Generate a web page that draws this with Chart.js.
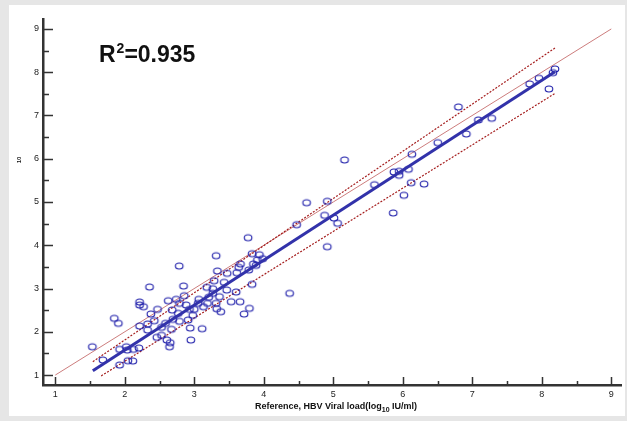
<!DOCTYPE html>
<html>
<head>
<meta charset="utf-8">
<script src="https://cdn.jsdelivr.net/npm/chart.js@4.4.1/dist/chart.umd.min.js"></script>
<style>
html,body{margin:0;padding:0;background:#e6e6e6;}
#wrap{position:absolute;left:0;top:0;width:627px;height:421px;}
</style>
</head>
<body>
<div id="wrap"><canvas id="c" width="627" height="421"></canvas></div>
<script>
// ---- data ----
const refX = [1.533,1.685,1.925,2.022,2.036,2.126,2.203,1.925,2.045,2.116,1.849,1.907,
2.213,2.328,2.328,2.424,2.375,2.471,2.461,2.529,2.605,2.644,2.654,2.529,2.586,2.672,2.691,2.787,2.769,2.682,
2.625,2.740,2.855,2.845,2.787,2.884,2.931,2.941,2.950,2.912,2.978,2.999,3.056,3.065,3.113,3.132,3.190,3.208,
3.266,3.315,3.323,3.381,3.362,3.180,3.266,3.286,3.430,3.467,3.333,3.473,3.315,2.783,2.356,2.213,2.213,2.270,
3.530,3.659,3.793,3.717,3.602,3.832,4.372,3.774,3.832,3.937,3.639,3.611,3.783,3.889,3.851,3.984,3.908,3.664,
4.473,4.616,4.914,4.875,5.010,5.062,4.914,5.162,
5.593,5.872,5.948,5.948,6.082,6.121,6.307,6.016,5.862,6.131,6.504,6.915,6.800,7.088,7.280,7.826,7.960,8.103,8.161,8.190];
const testY = [1.654,1.347,1.594,1.654,1.578,1.594,1.624,1.231,1.331,1.324,2.311,2.195,
2.133,2.179,2.040,2.256,2.410,2.519,1.872,1.918,1.809,1.654,1.747,2.103,2.195,2.057,2.288,2.242,2.427,2.503,
2.718,2.750,2.834,3.058,2.658,2.618,2.519,2.087,1.809,2.272,2.380,2.519,2.658,2.750,2.071,2.579,2.658,2.797,
2.889,2.658,2.533,2.464,2.810,3.028,2.995,3.180,3.143,2.965,3.405,3.351,3.758,3.520,3.035,2.688,2.618,2.579,
2.695,2.695,2.542,2.410,2.919,3.097,2.889,4.175,3.805,3.782,3.490,3.365,3.428,3.536,3.566,3.689,3.659,3.566,
4.475,4.984,5.016,4.692,4.630,4.508,3.966,5.971,
5.400,5.694,5.710,5.617,5.756,5.446,5.416,5.155,4.746,6.103,6.371,6.572,7.197,6.896,6.935,7.728,7.860,7.613,7.990,8.075];
const fitX = [1.54, 8.19];   const fitY = [1.10, 8.01];
const upperX = [1.54, 8.20]; const upperY = [1.31, 8.57];
const lowerX = [1.66, 8.19]; const lowerY = [0.98, 7.51];
const identX = [1, 9];       const identY = [1, 9];
const xTicks = [1,2,3,4,5,6,7,8,9];
const yTicks = [1,2,3,4,5,6,7,8,9];
const rSquared = "0.935";

const pts = (xs, ys) => xs.map((x, i) => ({x: x, y: ys[i]}));

// hollow ellipse marker
const mk = document.createElement('canvas');
mk.width = 12; mk.height = 10;
(function(){
  const g = mk.getContext('2d');
  g.strokeStyle = 'rgb(30,30,170)';
  g.lineWidth = 1.1;
  g.beginPath();
  g.ellipse(6, 5, 3.8, 3.0, 0, 0, Math.PI*2);
  g.stroke();
})();

const FONT = "'Liberation Sans', Arial, sans-serif";

const decor = {
  id: 'decor',
  beforeDraw(chart) {
    const c = chart.ctx;
    c.save();
    c.fillStyle = '#e6e6e6';
    c.fillRect(0, 0, chart.width, chart.height);
    c.fillStyle = '#ffffff';
    c.fillRect(9, 5, 616, 411);
    c.restore();
  },
  afterDraw(chart) {
    const c = chart.ctx;
    const xs = chart.scales.x, ys = chart.scales.y;
    const a = chart.chartArea;
    c.save();
    c.strokeStyle = '#333';
    c.lineWidth = 1.5;
    c.beginPath();
    for (let v = 1; v <= 9.001; v += 0.5) {
      const major = Math.abs(v - Math.round(v)) < 1e-6;
      const py = Math.round(ys.getPixelForValue(v)) + 0.5;
      c.moveTo(a.left, py); c.lineTo(a.left + (major ? 10 : 6), py);
      const px = Math.round(xs.getPixelForValue(v)) + 0.5;
      c.moveTo(px, a.bottom); c.lineTo(px, a.bottom - (major ? 8 : 4));
    }
    c.stroke();
    // R^2 annotation
    c.fillStyle = '#111';
    c.textBaseline = 'alphabetic';
    c.textAlign = 'left';
    c.font = "bold 23px " + FONT;
    let x0 = 99, y0 = 62;
    c.fillText('R', x0, y0);
    x0 += c.measureText('R').width + 1;
    c.font = "bold 14px " + FONT;
    c.fillText('2', x0, y0 - 9);
    x0 += c.measureText('2').width;
    c.font = "bold 23px " + FONT;
    c.fillText('=' + rSquared, x0, y0);
    // x axis title with subscript
    const p1 = 'Reference, HBV Viral load(log', p2 = '10', p3 = ' IU/ml)';
    c.font = "bold 9px " + FONT;
    const w1 = c.measureText(p1).width, w3 = c.measureText(p3).width;
    c.font = "bold 7px " + FONT;
    const w2 = c.measureText(p2).width;
    let tx = 336 - (w1 + w2 + w3) / 2, ty = 409;
    c.font = "bold 9px " + FONT;
    c.fillText(p1, tx, ty); tx += w1;
    c.font = "bold 7px " + FONT;
    c.fillText(p2, tx, ty + 3); tx += w2;
    c.font = "bold 9px " + FONT;
    c.fillText(p3, tx, ty);
    // y axis title remnant
    c.translate(21, 160);
    c.rotate(-Math.PI / 2);
    c.font = "bold 6px " + FONT;
    c.textAlign = 'center';
    c.fillText('10', 0, 0);
    c.restore();
  }
};

new Chart(document.getElementById('c'), {
  type: 'scatter',
  data: {
    datasets: [
      {data: pts(identX, identY), showLine: true, borderColor: 'rgb(205,125,125)', borderWidth: 1, pointRadius: 0, order: 4},
      {data: pts(upperX, upperY), showLine: true, borderColor: 'rgb(165,30,30)', borderWidth: 1.2, borderDash: [2, 1.5], pointRadius: 0, order: 3},
      {data: pts(lowerX, lowerY), showLine: true, borderColor: 'rgb(165,30,30)', borderWidth: 1.2, borderDash: [2, 1.5], pointRadius: 0, order: 3},
      {data: pts(refX, testY), pointStyle: mk, pointRadius: 5, order: 2},
      {data: pts(fitX, fitY), showLine: true, borderColor: 'rgb(50,50,170)', borderWidth: 3, pointRadius: 0, order: 1}
    ]
  },
  options: {
    responsive: false,
    animation: false,
    devicePixelRatio: 1,
    events: [],
    layout: {padding: {left: 0, top: 19, right: 5, bottom: 0}},
    plugins: {legend: {display: false}, tooltip: {enabled: false}},
    scales: {
      x: {
        type: 'linear', min: 0.823, max: 9.14,
        afterBuildTicks: s => { s.ticks = xTicks.map(v => ({value: v})); },
        afterFit: s => { s.height = 36; },
        grid: {display: false, drawTicks: false},
        border: {display: true, color: '#333', width: 2.5},
        ticks: {padding: 4, color: '#222', font: {family: FONT, size: 9}, maxRotation: 0}
      },
      y: {
        type: 'linear', min: 0.77, max: 9.23,
        afterBuildTicks: s => { s.ticks = yTicks.map(v => ({value: v})); },
        afterFit: s => { s.width = 43; },
        grid: {display: false, drawTicks: false},
        border: {display: true, color: '#333', width: 2.5},
        ticks: {padding: 4, color: '#222', font: {family: FONT, size: 9}}
      }
    }
  },
  plugins: [decor]
});
</script>
</body>
</html>
